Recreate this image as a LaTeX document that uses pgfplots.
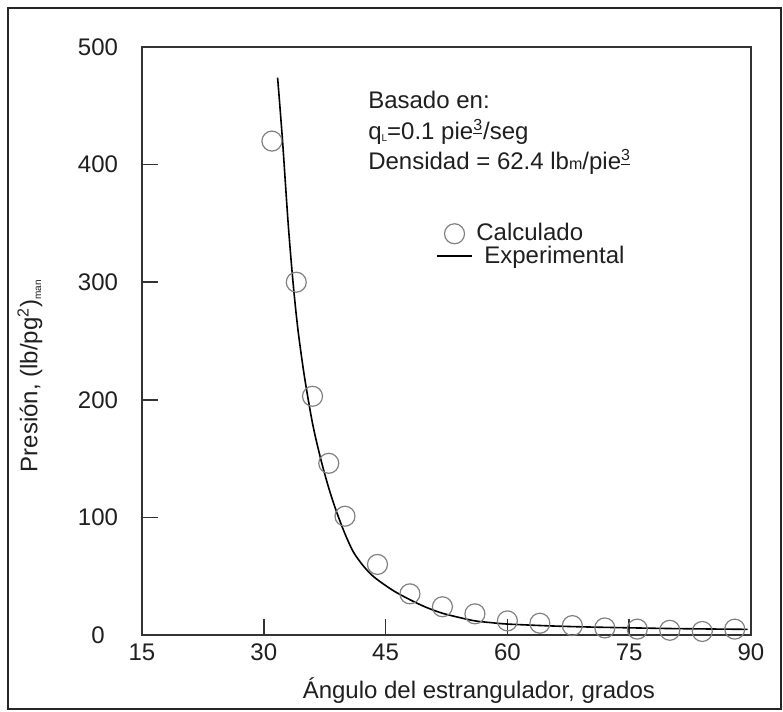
\documentclass[border=0pt]{standalone}
\usepackage{pgfplots}
\pgfplotsset{compat=1.18}
\usepackage{fontspec}
\setmainfont{Liberation Sans}

\begin{document}
\begin{tikzpicture}[x=1pt,y=1pt]
\useasboundingbox (-71,-38.5) rectangle (320.5,317.5);
% outer frame
\draw[line width=1pt, color=black!85] (-67,-37) rectangle (319.5,313.5);
\begin{axis}[
  at={(0,0)}, anchor=south west,
  scale only axis, width=304.5pt, height=294pt,
  xmin=15, xmax=90, ymin=0, ymax=500,
  xtick={15,30,45,60,75,90}, ytick={0,100,200,300,400,500},
  tick align=inside, xtick pos=left, ytick pos=left,
  major tick length=8pt,
  axis line style={line width=0.9pt, black!80},
  tick style={line width=0.8pt, black!80},
  font=\fontsize{12}{14.5}\selectfont,
  text=black!88,
  /pgf/number format/assume math mode=true,
  xticklabel style={yshift=-1pt},
  yticklabel style={anchor=center, xshift=-22pt},
  xlabel={Ángulo del estrangulador, grados},
  xlabel style={at={(axis description cs:0.854,0)}, anchor=north east, yshift=-18pt},
  ylabel={Presión, (lb/pg\textsuperscript{2})\raisebox{-0.3ex}{\tiny man}},
  ylabel style={at={(axis description cs:-0.184,0.44)}, anchor=center},
  clip=false,
  legend cell align=left,
  legend style={draw=none, fill=none, at={(axis cs:50.5,357)}, anchor=north west,
    font=\fontsize{12}{14.5}\selectfont, row sep=-3pt,
    /tikz/every even column/.append style={column sep=5pt}},
]
% calculated points
\addplot[only marks, mark=o, mark size=5pt, mark options={line width=0.6pt, draw=black!50}]
coordinates {
(31,420) (34,300) (36,203) (38,146) (40,101) (44,60) (48,35) (52,24)
(56,18) (60,12) (64,10) (68,8) (72,6) (76,5) (80,4) (84,3) (88,5)
};
\addlegendentry{Calculado}
% experimental curve
\addplot[smooth, line width=0.8pt, black]
coordinates {
(31.7,474) (32.3,421) (33,350) (33.6,300) (34.2,260) (35,220) (36,180)
(37,150) (38,125) (39,104) (40,86) (41,71) (42,61) (43,53) (44,47)
(46,37.5) (48,30) (50,23.5) (52,18.5) (54,15) (56,12) (58,10.5) (60,9.3)
(65,7.8) (70,6.8) (80,5.5) (89.6,4.8)
};
\addlegendentry{\hspace{4pt}Experimental}
\node[anchor=west] at (axis cs:42.0,455) {Basado en:};
\node[anchor=west] at (axis cs:42.0,428) {q\raisebox{-0.2ex}{\tiny L}=0.1 pie\textsuperscript{\underline{3}}/seg};
\node[anchor=west] at (axis cs:42.0,402) {Densidad = 62.4 lb{\footnotesize m}/pie\textsuperscript{\underline{3}}};
\end{axis}
\end{tikzpicture}
\end{document}
